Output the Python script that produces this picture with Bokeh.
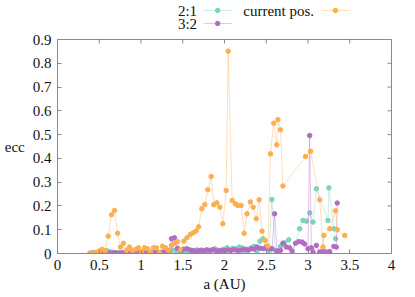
import math
from bokeh.plotting import figure
from bokeh.models import Range1d, FixedTicker, ColumnDataSource
from bokeh.layouts import column
from bokeh.embed import file_html
from bokeh.resources import INLINE
from bokeh.core.properties import value

FONT = "Liberation Serif"
GRAY = "#8a8a8a"
TXT = "#111111"
C21 = "#7ed3bf"
C32 = "#b46cc2"
CCUR = "#fdae4f"

# ---------------- data ----------------
a_21 = [0.41, 0.45, 0.48, 0.52, 0.555, 0.59, 0.625, 0.66, 0.70, 0.735,
        0.77, 0.805, 0.84, 0.88, 0.915, 0.95, 0.985, 1.02, 1.06, 1.095,
        1.13, 1.165, 1.20, 1.24, 1.275, 1.31, 1.345, 1.38, 1.42, 1.455,
        1.49, 1.525, 1.56, 1.60, 1.635, 1.67, 1.705, 1.74, 1.78, 1.815,
        1.85, 1.885, 1.92, 1.96, 1.995, 2.03, 2.065, 2.10, 2.14, 2.175,
        2.21, 2.245, 2.28, 2.32, 2.355, 2.39, 2.425, 2.46, 2.50, 2.535,
        2.567, 2.61, 2.67, 2.72, 2.77, 2.81, 2.90, 2.94, 2.98, 3.02,
        3.06, 3.10, 3.24, 3.25, 3.31, 3.33]
e_21 = [0.003, 0.004, 0.006, 0.010, 0.013, 0.012, 0.008, 0.005, 0.004, 0.003,
        0.004, 0.005, 0.003, 0.004, 0.005, 0.003, 0.004, 0.005, 0.003, 0.004,
        0.005, 0.004, 0.006, 0.005, 0.007, 0.006, 0.009, 0.015, 0.012, 0.008,
        0.010, 0.014, 0.012, 0.010, 0.013, 0.015, 0.010, 0.012, 0.015, 0.011,
        0.016, 0.020, 0.014, 0.012, 0.018, 0.024, 0.016, 0.022, 0.020, 0.027,
        0.024, 0.012, 0.018, 0.024, 0.030, 0.010, 0.052, 0.062, 0.030, 0.010,
        0.227, 0.013, 0.030, 0.045, 0.058, 0.000, 0.104, 0.139, 0.136, 0.171,
        0.132, 0.272, 0.139, 0.276, 0.104, 0.062]

a_32 = [0.39, 0.425, 0.46, 0.495, 0.53, 0.565, 0.60, 0.635, 0.67, 0.705,
        0.74, 0.775, 0.81, 0.845, 0.88, 0.915, 0.95, 0.985, 1.02, 1.055,
        1.09, 1.125, 1.16, 1.195, 1.23, 1.265, 1.30, 1.335, 1.365, 1.40,
        1.437, 1.475, 1.513, 1.55, 1.585, 1.62, 1.655, 1.69, 1.725, 1.76,
        1.795, 1.83, 1.865, 1.90, 1.935, 1.97, 2.005, 2.04, 2.075, 2.11,
        2.145, 2.18, 2.215, 2.25, 2.285, 2.32, 2.355, 2.39, 2.43, 2.47,
        2.50, 2.54, 2.57, 2.60, 2.63, 2.67, 2.70, 2.74, 2.78, 2.81,
        2.85, 2.89, 2.93, 2.96, 3.00, 3.02, 3.04, 3.06, 3.10, 3.14,
        3.18, 3.22, 3.26, 3.31, 3.34, 3.35]
e_32 = [0.001, 0.002, 0.001, 0.002, 0.003, 0.002, 0.001, 0.002, 0.003, 0.002,
        0.001, 0.002, 0.002, 0.003, 0.002, 0.001, 0.002, 0.003, 0.002, 0.002,
        0.003, 0.004, 0.003, 0.002, 0.004, 0.005, 0.006, 0.012, 0.062, 0.066,
        0.022, 0.012, 0.018, 0.020, 0.015, 0.012, 0.010, 0.012, 0.014, 0.012,
        0.015, 0.013, 0.016, 0.012, 0.010, 0.014, 0.012, 0.015, 0.013, 0.016,
        0.014, 0.012, 0.016, 0.018, 0.014, 0.020, 0.018, 0.027, 0.022, 0.020,
        0.024, 0.020, 0.020, 0.167, 0.010, 0.013, 0.043, 0.027, 0.024, 0.010,
        0.043, 0.050, 0.048, 0.040, 0.020, 0.496, 0.024, 0.006, 0.034, 0.006,
        0.013, 0.006, 0.008, 0.030, 0.027, 0.212]

a_cur = [0.39, 0.43, 0.47, 0.50, 0.535, 0.57, 0.607, 0.647, 0.683, 0.72,
         0.754, 0.79, 0.826, 0.862, 0.898, 0.934, 0.97, 1.006, 1.042, 1.078,
         1.114, 1.15, 1.186, 1.222, 1.257, 1.293, 1.33, 1.365, 1.40, 1.437,
         1.475, 1.513, 1.55, 1.59, 1.625, 1.66, 1.69, 1.728, 1.764, 1.80,
         1.84, 1.872, 1.908, 1.944, 1.98, 2.02, 2.044, 2.092, 2.13, 2.16,
         2.20, 2.236, 2.27, 2.31, 2.343, 2.38, 2.415, 2.45, 2.487, 2.52,
         2.55, 2.59, 2.626, 2.64, 2.67, 2.70, 2.97, 3.03, 3.14, 3.18,
         3.19, 3.26, 3.33, 3.35, 3.44]
e_cur = [0.000, 0.002, 0.003, 0.010, 0.018, 0.012, 0.073, 0.163, 0.181, 0.085,
         0.027, 0.043, 0.013, 0.027, 0.013, 0.017, 0.024, 0.005, 0.024, 0.020,
         0.006, 0.024, 0.024, 0.003, 0.031, 0.024, 0.013, 0.034, 0.043, 0.050,
         0.015, 0.052, 0.066, 0.080, 0.087, 0.095, 0.112, 0.188, 0.206, 0.268,
         0.324, 0.205, 0.213, 0.195, 0.125, 0.265, 0.851, 0.223, 0.209, 0.202,
         0.202, 0.085, 0.167, 0.217, 0.195, 0.146, 0.226, 0.094, 0.055, 0.031,
         0.419, 0.548, 0.457, 0.563, 0.520, 0.284, 0.408, 0.430, 0.226, 0.027,
         0.076, 0.104, 0.180, 0.100, 0.076]

x_ticks = [0, 0.5, 1, 1.5, 2, 2.5, 3, 3.5, 4]
x_tick_labels = ["0", "0.5", "1", "1.5", "2", "2.5", "3", "3.5", "4"]
y_ticks = [0, 0.1, 0.2, 0.3, 0.4, 0.5, 0.6, 0.7, 0.8, 0.9]
y_tick_labels = ["0", "0.1", "0.2", "0.3", "0.4", "0.5", "0.6", "0.7", "0.8", "0.9"]

series_names = ["2:1", "3:2", "current pos."]
series_colors = [C21, C32, CCUR]

W = 414

# ---------------- legend strip ----------------
LH = 33
leg = figure(width=W, height=LH, x_range=Range1d(0, W), y_range=Range1d(0, LH),
             output_backend="svg", toolbar_location=None, min_border=0)
leg.xaxis.visible = False
leg.yaxis.visible = False
leg.grid.visible = False
leg.outline_line_color = None
leg.background_fill_color = None
leg.border_fill_color = None

leg_text_x = [173, 173, 318]
row_y = [LH - 10, LH - 23]
leg_rows = [row_y[0], row_y[1], row_y[0]]
leg_seg = [(181, 216), (181, 216), (327, 362)]
for name, col, tx, ty, (s0, s1) in zip(series_names, series_colors, leg_text_x, leg_rows, leg_seg):
    leg.text(x=[tx], y=[ty], text=[name], text_align="right", text_baseline="middle",
             text_font=value(FONT), text_font_size="15px", text_color=TXT)
    leg.segment(x0=[s0], y0=[ty], x1=[s1], y1=[ty], line_color=col, line_alpha=0.4, line_width=1)
    leg.scatter(x=[(s0 + s1) / 2], y=[ty], size=4.5, fill_color=col, line_color=col)

# ---------------- main plot ----------------
X0, X1, Y0, Y1 = 0, 4, 0, 0.9
p = figure(width=W, height=263, x_range=Range1d(X0, X1), y_range=Range1d(Y0, Y1),
           output_backend="svg", toolbar_location=None,
           min_border_left=57, min_border_right=W - 391, min_border_top=6, min_border_bottom=43)
p.grid.visible = False
p.outline_line_color = GRAY
p.background_fill_color = "white"

for a, e, col in [(a_21, e_21, C21), (a_32, e_32, C32), (a_cur, e_cur, CCUR)]:
    src = ColumnDataSource(dict(a=a, e=e))
    p.line("a", "e", source=src, line_color=col, line_alpha=0.4, line_width=1)
    p.scatter("a", "e", source=src, size=4.5, fill_color=col, line_color=col)

# mirrored inward ticks on top and right edges (half of each dash is clipped by the frame)
p.scatter(x=x_ticks, y=[Y1] * len(x_ticks), marker="dash", angle=math.pi / 2, size=8,
          line_color=GRAY, line_width=1)
p.scatter(x=[X1] * len(y_ticks), y=y_ticks, marker="dash", size=8,
          line_color=GRAY, line_width=1)

def style_axis(ax, ticks, labels):
    ax.ticker = FixedTicker(ticks=ticks)
    ax.major_label_overrides = {t: l for t, l in zip(ticks, labels)}
    ax.major_tick_in = 4
    ax.major_tick_out = 0
    ax.minor_tick_line_color = None
    ax.axis_line_color = GRAY
    ax.major_tick_line_color = GRAY
    ax.major_label_text_font = FONT
    ax.major_label_text_font_size = "15px"
    ax.major_label_text_color = TXT
    ax.axis_label_text_font = FONT
    ax.axis_label_text_font_size = "15px"
    ax.axis_label_text_font_style = "normal"
    ax.axis_label_text_color = TXT

style_axis(p.xaxis[0], x_ticks, x_tick_labels)
style_axis(p.yaxis[0], y_ticks, y_tick_labels)
p.xaxis[0].axis_label = "a (AU)"
p.xaxis[0].major_label_standoff = 6
p.xaxis[0].axis_label_standoff = 3
p.yaxis[0].axis_label = "ecc"
p.yaxis[0].axis_label_orientation = "horizontal"
p.yaxis[0].major_label_standoff = 6
p.yaxis[0].axis_label_standoff = 5

layout = column(leg, p, spacing=0)
open("out.html", "w").write(file_html(layout, INLINE))
